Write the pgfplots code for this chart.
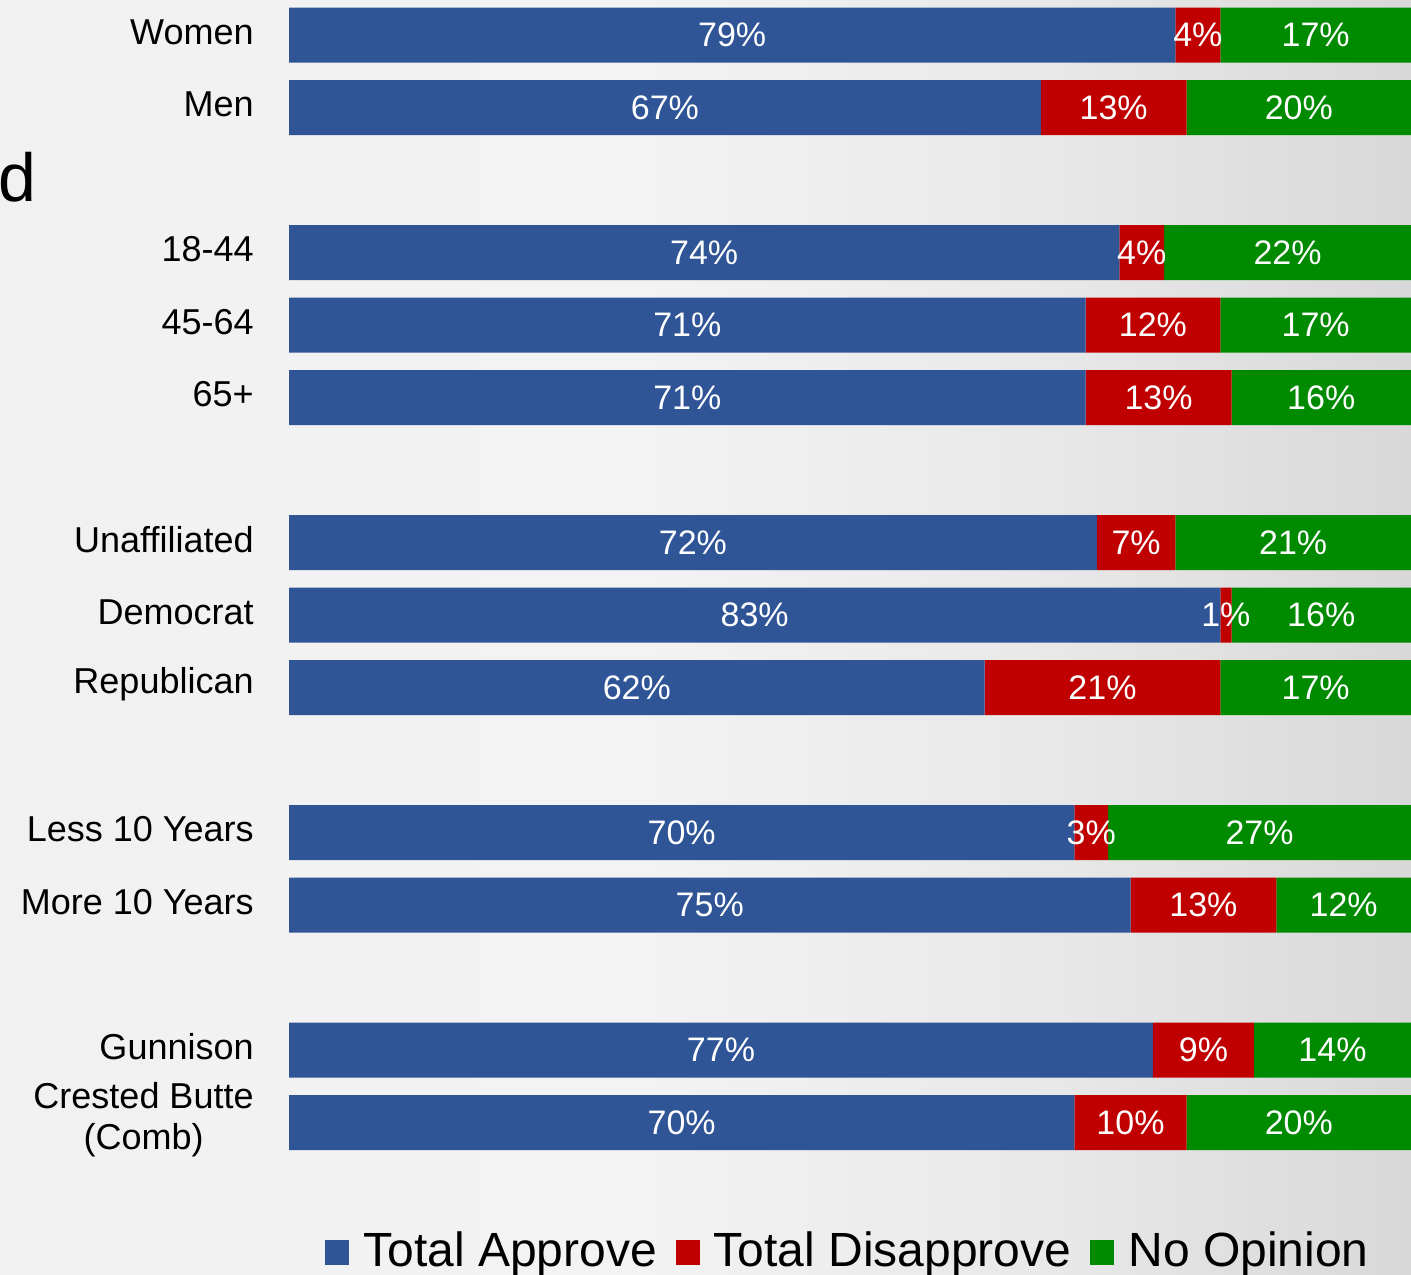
\documentclass[border=0pt]{standalone}
\usepackage{fontspec}
\setmainfont{Liberation Sans}
\usepackage{graphicx}
\usepackage{pgfplots}
\usepackage{pgfplotstable}
\pgfplotsset{compat=1.18}

\definecolor{appblue}{HTML}{2F5597}
\definecolor{disred}{HTML}{C00000}
\definecolor{nogreen}{HTML}{008A00}
\definecolor{bgA}{HTML}{F1F1F1}
\definecolor{bgB}{HTML}{F3F3F3}
\definecolor{bgC}{HTML}{E8E8E8}
\definecolor{bgD}{HTML}{D8D8D8}
% the path box maps to 25bp..75bp of the shading
\pgfdeclarehorizontalshading{bgshade}{100bp}{color(0bp)=(bgA); color(25bp)=(bgA); color(47.5bp)=(bgB); color(62.5bp)=(bgC); color(75bp)=(bgD); color(100bp)=(bgD)}

% row = position from the top, gaps between groups
\pgfplotstableread{
row a d n
0 79 4 17
1 67 13 20
3 74 4 22
4 71 12 17
5 71 13 16
7 72 7 21
8 83 1 16
9 62 21 17
11 70 3 27
12 75 13 12
14 77 9 14
15 70 10 20
}\survey

\begin{document}
\begin{tikzpicture}
\useasboundingbox (0,0) rectangle (705.5pt,637pt);
\shade[shading=bgshade] (0,0) rectangle (705.5pt,637pt);
\begin{axis}[
    at={(0,0)}, anchor=south west,
    scale only axis, width=705.5pt, height=637pt,
    xbar stacked, bar width=27.5pt,
    xmin=-25.7576, xmax=100,
    ymin=-0.48276, ymax=17.0897,
    y dir=reverse,
    axis line style={draw=none},
    xtick=\empty,
    ytick={0,1,3,4,5,7,8,9,11,12,14,15},
    yticklabels={Women,Men,18-44,45-64,65+,Unaffiliated,Democrat,Republican,Less 10 Years,More 10 Years,Gunnison,{Crested Butte\\(Comb)}},
    major tick length=0pt,
    yticklabel style={font=\fontsize{18}{20.5}\selectfont, inner sep=0pt, anchor=east, xshift=127pt, yshift=1.5pt, align=center},
    clip=false,
    point meta=explicit,
    nodes near coords={\pgfmathprintnumber{\pgfplotspointmeta}\%},
    every node near coord/.append style={font=\fontsize{17}{20}\selectfont, text=white, anchor=center},
    /pgf/number format/assume math mode=true,
    legend columns=-1,
    legend style={at={(rel axis cs:0.2303,0.0031)}, anchor=south west, draw=none, fill=none,
        inner sep=0pt, font=\fontsize{24}{28}\selectfont, nodes={inner sep=0pt, anchor=base west},
        /tikz/every even column/.append style={column sep=9.5pt}},
    legend image code/.code={\fill[#1,draw=none] (0pt,1pt) rectangle (12pt,13.5pt); \path (19pt,7pt);},
]
\addplot[fill=appblue, draw=none] table[x=a, y=row, meta=a] {\survey};
\addlegendentry{Total Approve}
\addplot[fill=disred, draw=none] table[x=d, y=row, meta=d] {\survey};
\addlegendentry{Total Disapprove}
\addplot[fill=nogreen, draw=none] table[x=n, y=row, meta=n] {\survey};
\addlegendentry{No Opinion}

\node[anchor=base east, inner sep=0pt, font=\fontsize{34}{40}\selectfont] at (axis cs:-22.46,2.29) {d};
\end{axis}
\end{tikzpicture}
\end{document}
